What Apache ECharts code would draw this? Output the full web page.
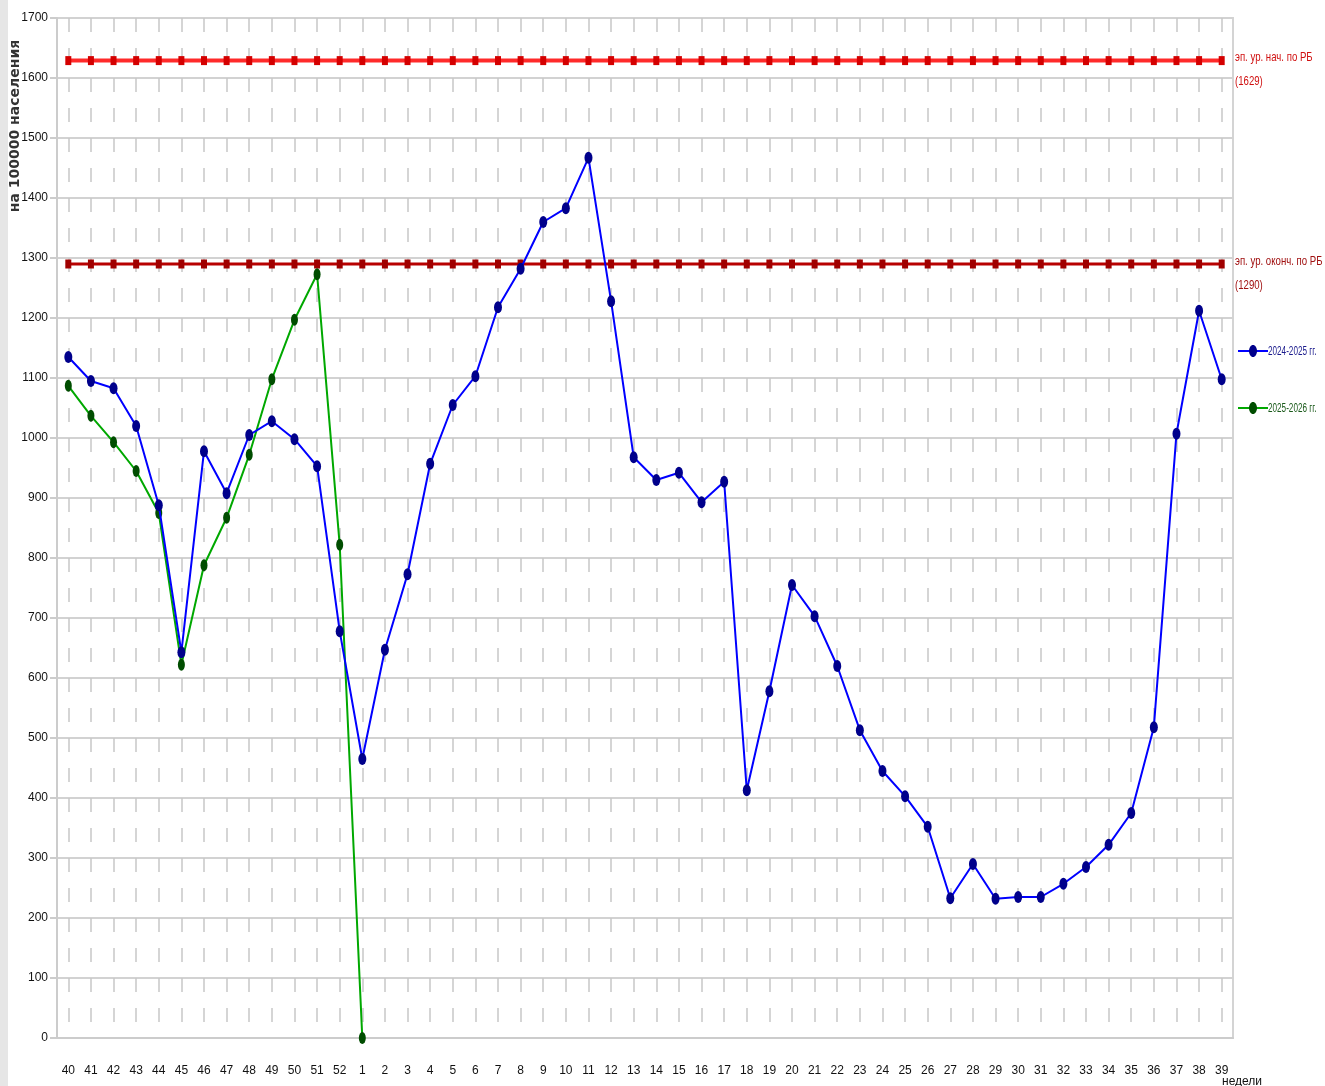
<!DOCTYPE html>
<html>
<head>
<meta charset="utf-8">
<script src="https://cdn.jsdelivr.net/npm/echarts@6/dist/echarts.min.js"></script>
<style>
html, body { margin: 0; padding: 0; background: #fff; }
#main { width: 1325px; height: 1086px; }
</style>
</head>
<body>
<div id="main"></div>
<script>
var weeks = ['40','41','42','43','44','45','46','47','48','49','50','51','52',
  '1','2','3','4','5','6','7','8','9','10','11','12','13','14','15','16','17','18','19','20',
  '21','22','23','24','25','26','27','28','29','30','31','32','33','34','35','36','37','38','39'];

// 2024-2025 гг.
var season2425 = [1135, 1095, 1083, 1020, 888, 643, 978, 908, 1005, 1028, 998, 953, 678,
  465, 647, 773, 957, 1055, 1103, 1218, 1282, 1360, 1383, 1467, 1228, 968, 930, 942, 893, 927,
  413, 578, 755, 703, 620, 513, 445, 403, 352, 233, 290, 232, 235, 235, 257, 285, 322, 375, 518,
  1007, 1212, 1098];

// 2025-2026 гг.
var season2526 = [1087, 1037, 993, 945, 875, 622, 788, 867, 972, 1098, 1197, 1273, 822, 0];

var levelStart = 1629;
var levelEnd = 1290;
var startLine = weeks.map(function () { return levelStart; });
var endLine = weeks.map(function () { return levelEnd; });

var font = '"Liberation Sans", Arial, sans-serif';

var myChart = echarts.init(document.getElementById('main'));

// narrow text on the right side (labels of the levels and the legend)
function narrowText(x, y, text, color) {
  return {
    type: 'text', x: x, y: y, scaleX: 0.74, scaleY: 1,
    style: { text: text, fill: color, font: '13px ' + font, verticalAlign: 'middle' }
  };
}
function legendItem(y, name, lineColor, dotColor, textColor) {
  return {
    type: 'group', x: 1238, y: y,
    children: [
      { type: 'line', shape: { x1: 0, y1: 0, x2: 30, y2: 0 }, style: { stroke: lineColor, lineWidth: 2 } },
      { type: 'ellipse', shape: { cx: 15, cy: 0, rx: 4, ry: 6 }, style: { fill: dotColor } },
      { type: 'text', x: 30, y: 1, scaleX: 0.68, style: { text: name, fill: textColor, font: '12px ' + font, verticalAlign: 'middle' } }
    ]
  };
}

var option = {
  backgroundColor: '#ffffff',
  animation: false,
  textStyle: { fontFamily: font },
  grid: {
    left: 57, right: 92, top: 18, bottom: 48,
    show: true, borderColor: '#d4d4d4', borderWidth: 2
  },
  legend: { show: false },
  xAxis: {
    type: 'category',
    data: weeks,
    boundaryGap: true,
    axisLine: { lineStyle: { color: '#cccccc', width: 2 } },
    axisTick: { show: false },
    axisLabel: { color: '#111', fontSize: 12, margin: 27, interval: 0, fontFamily: font },
    splitLine: {
      show: true,
      alignWithLabel: true,
      interval: 0,
      lineStyle: { color: '#c8c8c8', width: 1.5, type: [14, 16], dashOffset: 0 }
    }
  },
  yAxis: {
    type: 'value',
    min: 0,
    max: 1700,
    interval: 100,
    axisLine: { show: true, lineStyle: { color: '#cccccc', width: 2 } },
    axisTick: { show: true, length: 7, lineStyle: { color: '#cccccc', width: 2 } },
    axisLabel: {
      color: '#111', fontSize: 12, margin: 9, fontFamily: font,
      formatter: function (v) { return String(v); }
    },
    splitLine: { lineStyle: { color: '#d2d2d2', width: 2 } }
  },
  graphic: [
    { type: 'rect', left: 0, top: 0, shape: { width: 8, height: 1086 }, style: { fill: '#e6e6e6' } },
    {
      type: 'text', x: 15, y: 126, rotation: Math.PI / 2,
      style: {
        text: 'на 100000 населения', fill: '#333', font: 'bold 14px "DejaVu Sans", sans-serif',
        align: 'center', verticalAlign: 'middle'
      }
    },
    { type: 'text', x: 1222, y: 1076, style: { text: 'недели', fill: '#111', font: '12px ' + font } },
    narrowText(1235, 57, 'эп. ур. нач. по РБ', '#d01010'),
    narrowText(1235, 81, '(1629)', '#d01010'),
    narrowText(1235, 261, 'эп. ур. оконч. по РБ', '#a01010'),
    narrowText(1235, 285, '(1290)', '#a01010'),
    legendItem(351, '2024-2025 гг.', '#0000ff', '#00008b', '#1a1a8c'),
    legendItem(408, '2025-2026 гг.', '#00a800', '#004d00', '#1a5a1a')
  ],
  series: [
    {
      name: 'эп. ур. нач. по РБ',
      type: 'line',
      data: startLine,
      symbol: 'rect',
      symbolSize: [6, 9],
      itemStyle: { color: '#d40000' },
      lineStyle: { color: '#ff2a2a', width: 4 },
      z: 2
    },
    {
      name: 'эп. ур. оконч. по РБ',
      type: 'line',
      data: endLine,
      symbol: 'rect',
      symbolSize: [6, 9],
      itemStyle: { color: '#a00000' },
      lineStyle: { color: '#b80000', width: 3 },
      z: 2
    },
    {
      name: '2024-2025 гг.',
      type: 'line',
      data: season2425,
      symbol: 'circle',
      symbolSize: [8, 12],
      itemStyle: { color: '#00008b' },
      lineStyle: { color: '#0000ff', width: 2 },
      z: 4
    },
    {
      name: '2025-2026 гг.',
      type: 'line',
      data: season2526,
      symbol: 'circle',
      symbolSize: [7, 12],
      itemStyle: { color: '#004d00' },
      lineStyle: { color: '#00a800', width: 2 },
      z: 3
    }
  ]
};

myChart.setOption(option);
</script>
</body>
</html>
